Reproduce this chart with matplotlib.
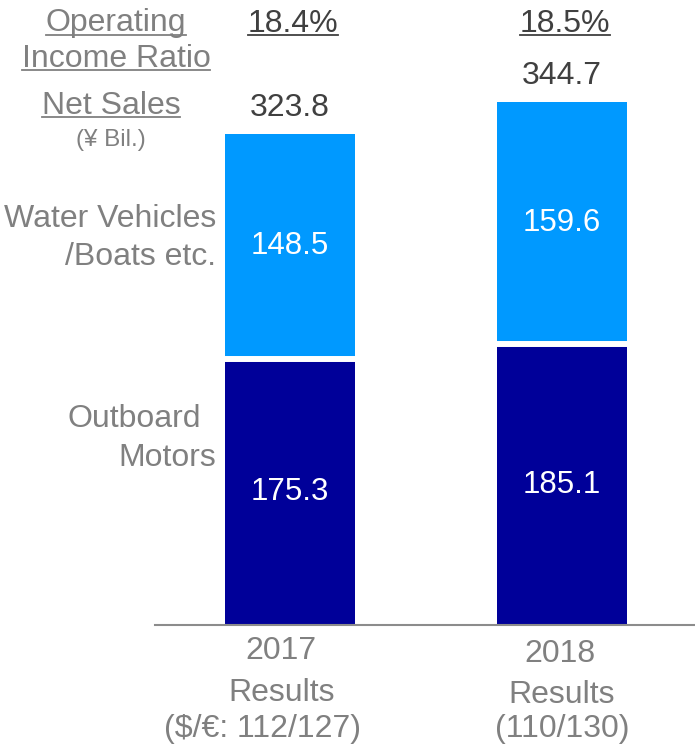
import matplotlib
matplotlib.use("Agg")
import matplotlib.pyplot as plt
from matplotlib.lines import Line2D

plt.rcParams['font.family'] = ['Liberation Sans', 'DejaVu Sans']

years = ["2017", "2018"]
outboard = [175.3, 185.1]
water = [148.5, 159.6]
net_sales = [323.8, 344.7]
op_ratio = ["18.4%", "18.5%"]
xlabels = [["2017", "Results", "($/€: 112/127)"],
           ["2018", "Results", "(110/130)"]]

DARK = '#000099'
LIGHT = '#0099FF'
GRAY = '#808080'
VAL = '#404040'

W, H = 695, 745
fig = plt.figure(figsize=(W / 100, H / 100), dpi=100)
ax = fig.add_axes([155 / W, 120 / H, 540 / W, 625 / H])

x = list(range(len(years)))
bw = 0.478
ax.bar(x, outboard, bw, color=DARK, linewidth=0)
ax.bar(x, water, bw, bottom=outboard, color=LIGHT, linewidth=0)
# white gap between the two segments
for xi, b in zip(x, outboard):
    ax.plot([xi - bw / 2, xi + bw / 2], [b, b], color='white', lw=4.3,
            solid_capstyle='butt')

for xi, o, w_, tot in zip(x, outboard, water, net_sales):
    ax.text(xi, o / 2, f"{o:.1f}", ha='center', va='center', color='white', fontsize=22.5)
    ax.text(xi, o + w_ / 2, f"{w_:.1f}", ha='center', va='center', color='white', fontsize=22.5)
    ax.annotate(f"{tot:.1f}", (xi, tot), xytext=(0, 13), textcoords='offset points',
                ha='center', va='baseline', color=VAL, fontsize=23)

ax.set_xlim(-135 / 272, 405 / 272)
ax.set_ylim(0, 625 / 1.5174)
for s in ['top', 'right', 'left']:
    ax.spines[s].set_visible(False)
ax.spines['bottom'].set_color('#8c8c8c')
ax.spines['bottom'].set_linewidth(1.5)
ax.set_xticks([])
ax.set_yticks([])


def fx(px):
    return px / W


def fy(py):
    return 1 - py / H


# category labels below the axis, one text per line
xoffs = [[-9, -8, -27], [-2, 0, 0]]
baselines = [[659, 701, 737], [662, 703, 737]]
for xi, lines, offs, bls in zip(x, xlabels, xoffs, baselines):
    cx = ax.transData.transform((xi, 0))[0]
    for line, off, bl in zip(lines, offs, bls):
        fig.text(fx(cx + off), fy(bl), line, ha='center', va='baseline',
                 color=GRAY, fontsize=23)

underlined = []
# operating income ratio row
for xi, r in zip(x, op_ratio):
    cx = ax.transData.transform((xi, 0))[0]
    t = fig.text(fx(cx + 3), fy(31.5), r, ha='center', va='baseline', color=VAL, fontsize=23)
    underlined.append((t, 31.5, VAL))

t = fig.text(fx(116), fy(31.5), "Operating", ha='center', va='baseline', color=GRAY, fontsize=23)
underlined.append((t, 31.5, GRAY))
t = fig.text(fx(116), fy(67), "Income Ratio", ha='center', va='baseline', color=GRAY, fontsize=23)
underlined.append((t, 67, GRAY))
t = fig.text(fx(111), fy(114), "Net Sales", ha='center', va='baseline', color=GRAY, fontsize=23)
underlined.append((t, 114, GRAY))
fig.text(fx(111), fy(140), "(¥ Bil.)", ha='center', va='center', color=GRAY, fontsize=17.5)

fig.text(fx(216), fy(227), "Water Vehicles", ha='right', va='baseline', color=GRAY, fontsize=23)
fig.text(fx(216), fy(265), "/Boats etc.", ha='right', va='baseline', color=GRAY, fontsize=23)
fig.text(fx(201), fy(427), "Outboard", ha='right', va='baseline', color=GRAY, fontsize=23)
fig.text(fx(216), fy(466), "Motors", ha='right', va='baseline', color=GRAY, fontsize=23)

fig.canvas.draw()
renderer = fig.canvas.get_renderer()
for t, bl, c in underlined:
    bb = t.get_window_extent(renderer)
    y = fy(bl + 3)
    fig.add_artist(Line2D([fx(bb.x0), fx(bb.x1)], [y, y], transform=fig.transFigure,
                          color=c, lw=1.3))

fig.savefig("out.png", dpi=100)
